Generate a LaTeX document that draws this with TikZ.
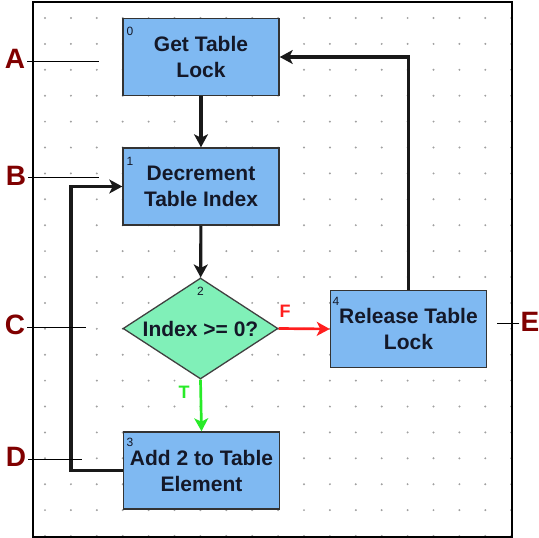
\documentclass[tikz,border=0pt]{standalone}
\usepackage{fontspec}
\setmainfont{Liberation Sans}
\usetikzlibrary{arrows.meta,shapes.geometric}
\definecolor{boxblue}{RGB}{127,185,242}
\definecolor{mint}{RGB}{128,240,184}
\definecolor{lblred}{RGB}{128,0,0}
\definecolor{arrred}{RGB}{255,30,30}
\definecolor{arrgreen}{RGB}{40,235,40}
\definecolor{dotc}{RGB}{160,160,160}
\definecolor{txt}{RGB}{20,24,40}
\begin{document}
\begin{tikzpicture}[x=1pt,y=-1pt,
  stepbox/.style={draw=black!80,line width=1.5pt,fill=boxblue,minimum width=156pt,minimum height=77pt,inner sep=0pt,align=center,text=txt,font=\bfseries\fontsize{21}{26}\selectfont},
  decbox/.style={draw=black!75,line width=1.3pt,fill=mint,shape=diamond,minimum width=155pt,minimum height=101pt,inner sep=0pt},
  dtxt/.style={text=txt,font=\bfseries\fontsize{21}{26}\selectfont,inner sep=0pt},
  numlbl/.style={text=txt,font=\fontsize{12}{12}\selectfont,inner sep=0pt},
  arr/.style={line width=3.1pt,draw=black!90,-{Stealth[length=13pt,width=14pt,inset=3.5pt]}},
  letter/.style={text=lblred,font=\bfseries\fontsize{28}{28}\selectfont,inner sep=0pt},
  lblline/.style={line width=0.9pt,draw=black},
  cond/.style={font=\bfseries\fontsize{18}{18}\selectfont,inner sep=0pt}]
\useasboundingbox (0,0) rectangle (539,538);
% grid dots
\foreach \i in {0,...,18}{
  \foreach \j in {0,...,20}{
    \fill[dotc] ({45+25.9*\i},{18+25.9*\j}) circle (1.1pt);
  }
}
% frame
\draw[line width=1.2pt] (33,2) rectangle (512,537);
% nodes
\node[stepbox] (b0) at (201,57) {Get Table\\Lock};
\node[stepbox] (b1) at (201,186.5) {Decrement\\Table Index};
\node[decbox] (dia) at (200.5,328.5) {};
\node[dtxt] (dt) at (200.5,329) {Index >= 0?};
\node[stepbox] (b4) at (408.5,329) {Release Table\\Lock};
\node[stepbox] (b3) at (201.5,470.5) {Add 2 to Table\\Element};
% number labels
\node[numlbl] (n0) at (130,31) {0};
\node[numlbl] (n1) at (130,161) {1};
\node[numlbl] (n2) at (200.5,291) {2};
\node[numlbl] (n3) at (130,442) {3};
\node[numlbl] (n4) at (336,301) {4};
% connectors
\draw[arr] (b0) -- (b1);
\draw[arr] (b1) -- (dia);
\draw[arr,draw=arrred,line width=2.7pt] (dia.east) -- (b4.west);
\draw[arr,draw=arrgreen,line width=2.7pt] (dia.south) -- (b3.north);
\draw[arr] (b4.north) |- (b0.east);
\coordinate (lp) at (71,471);
\draw[arr] (b3.west) -- (b3.west -| lp) |- (b1.west);
% condition labels
\node[cond,text=arrred] (F) at (285,311.5) {F};
\node[cond,text=arrgreen] (T) at (184,392.5) {T};
% side letters
\node[letter] (A) at (15,59) {A};
\node[letter] (B) at (16,176) {B};
\node[letter] (C) at (15,325) {C};
\node[letter] (D) at (16,457) {D};
\node[letter] (E) at (530,322) {E};
\coordinate (Ae) at (99,61);
\coordinate (Be) at (99,177);
\coordinate (Ce) at (86,327);
\coordinate (De) at (82,459);
\coordinate (Ee) at (497,323);
\draw[lblline] ([xshift=2pt]A.east |- Ae) -- (Ae);
\draw[lblline] ([xshift=2pt]B.east |- Be) -- (Be);
\draw[lblline] ([xshift=2pt]C.east |- Ce) -- (Ce);
\draw[lblline] ([xshift=2pt]D.east |- De) -- (De);
\draw[lblline] ([xshift=-1pt]E.west |- Ee) -- (Ee);
\end{tikzpicture}
\end{document}
